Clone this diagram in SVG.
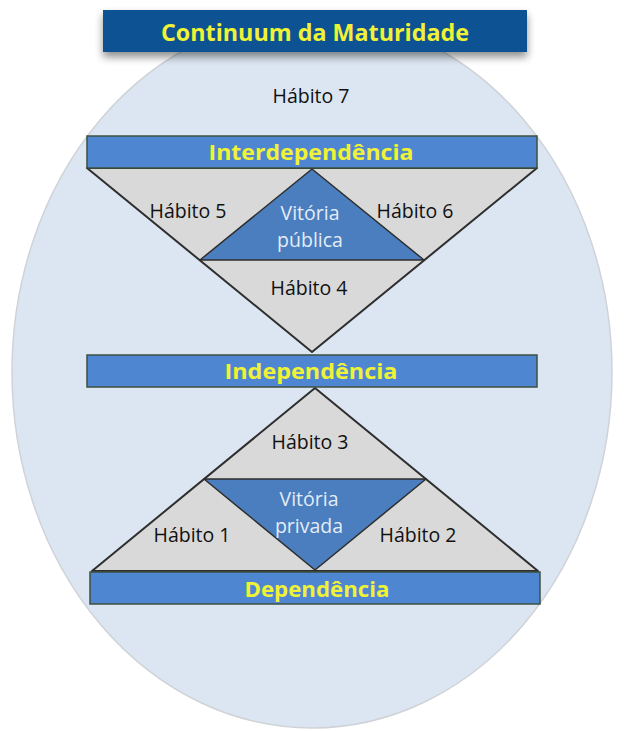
<svg xmlns="http://www.w3.org/2000/svg" width="624" height="731" viewBox="0 0 624 731">
<defs>
<filter id="sh" x="-10%" y="-30%" width="120%" height="190%">
<feGaussianBlur in="SourceAlpha" stdDeviation="4"/>
<feOffset dx="0" dy="5" result="b"/>
<feComponentTransfer><feFuncA type="linear" slope="0.45"/></feComponentTransfer>
<feMerge><feMergeNode/><feMergeNode in="SourceGraphic"/></feMerge>
</filter>
</defs>
<style>
.bar{fill:#4f86d2;stroke:#3e5040;stroke-width:1.5}
.grey{fill:#d9d9d9;stroke:#2e2e2e;stroke-width:2;stroke-linejoin:round}
.blue{fill:#4a7ebe;stroke:#2e2e2e;stroke-width:1.5;stroke-linejoin:round}
.lbl{font-family:"Open Sans","Liberation Sans",sans-serif;font-size:19.5px;fill:#111;text-anchor:middle}
.win{font-family:"Open Sans","Liberation Sans",sans-serif;font-size:19.5px;fill:#e4ecf7;text-anchor:middle}
.ttl{font-family:"Open Sans","Liberation Sans",sans-serif;font-weight:bold;fill:#f0f235;text-anchor:middle}
</style>
<rect width="624" height="731" fill="#ffffff"/>
<g id="ellipse">
<ellipse cx="312" cy="372" rx="300" ry="356" fill="#dce6f2" stroke="#cfd3d8" stroke-width="1.5"/>
</g>
<g id="title">
<rect x="103" y="10" width="424" height="42" fill="#0f5394" filter="url(#sh)"/>
<text class="ttl" x="315" y="41" font-size="24" textLength="308" lengthAdjust="spacingAndGlyphs">Continuum da Maturidade</text>
</g>
<g id="habito7">
<text class="lbl" x="311" y="103" font-size="18">Hábito 7</text>
</g>
<g id="top-triangle">
<polygon class="grey" points="87,168 537,168 312,352"/>
<polygon class="blue" points="312,169 200,260 424,260"/>
<text class="lbl" x="188" y="218">Hábito 5</text>
<text class="lbl" x="415" y="218">Hábito 6</text>
<text class="lbl" x="309" y="295">Hábito 4</text>
<text class="win" x="310" y="220">Vitória</text>
<text class="win" x="310" y="247">pública</text>
</g>
<g id="interdependencia">
<rect class="bar" x="87" y="136" width="450" height="32"/>
<text class="ttl" x="311" y="160" font-size="21" textLength="205" lengthAdjust="spacingAndGlyphs">Interdependência</text>
</g>
<g id="bottom-triangle">
<polygon class="grey" points="92,571 538,571 315,388"/>
<polygon class="blue" points="204,479 426,479 315,570"/>
<text class="lbl" x="310" y="449">Hábito 3</text>
<text class="lbl" x="192" y="542">Hábito 1</text>
<text class="lbl" x="418" y="542">Hábito 2</text>
<text class="win" x="309" y="506">Vitória</text>
<text class="win" x="309" y="533">privada</text>
</g>
<g id="independencia">
<rect class="bar" x="87" y="355" width="450" height="32"/>
<text class="ttl" x="311" y="379" font-size="21" textLength="173" lengthAdjust="spacingAndGlyphs">Independência</text>
</g>
<g id="dependencia">
<rect class="bar" x="90" y="572" width="450" height="32"/>
<text class="ttl" x="317" y="597" font-size="21" textLength="145" lengthAdjust="spacingAndGlyphs">Dependência</text>
</g>
</svg>
